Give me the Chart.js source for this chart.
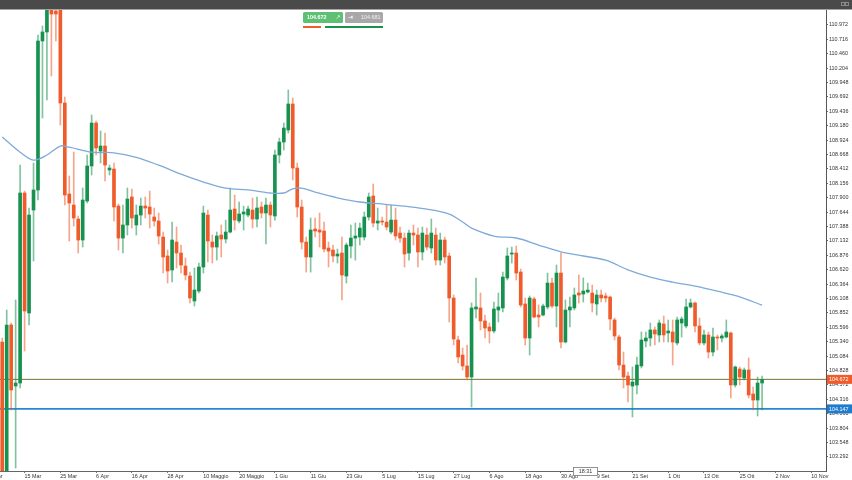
<!DOCTYPE html>
<html>
<head>
<meta charset="utf-8">
<script src="https://cdn.jsdelivr.net/npm/chart.js@4.4.0/dist/chart.umd.min.js"></script>
<style>
  html, body { margin: 0; padding: 0; background: #fff; }
  #wrap { position: relative; width: 852px; height: 480px; }
</style>
</head>
<body>
<div id="wrap"><canvas id="chart"></canvas></div>
<script>
// daily candles
const opens = [105.336,102.95,105.639,104.554,104.607,107.985,105.852,107.682,108.038,110.687,110.847,111.380,111.220,111.274,109.585,107.967,107.771,107.522,107.149,107.842,108.465,109.229,108.731,108.820,108.394,108.411,107.753,107.184,107.416,107.914,107.416,107.593,107.753,107.736,107.558,107.487,107.202,106.865,106.616,107.113,106.918,106.687,106.509,106.065,106.242,106.669,107.593,107.113,107.024,107.238,107.167,107.291,107.700,107.487,107.611,107.593,107.682,107.522,107.736,107.629,107.771,107.576,108.660,108.891,109.105,109.567,108.429,107.736,107.113,106.847,107.344,107.327,107.309,107.007,106.971,106.865,106.918,106.509,107.042,107.184,107.202,107.202,107.558,107.931,107.451,107.487,107.469,107.291,107.504,107.273,107.184,106.918,107.273,107.238,106.936,107.238,107.007,107.238,106.793,107.149,106.865,106.118,105.372,105.105,104.910,104.714,105.923,105.941,105.710,105.603,105.532,105.905,105.941,106.474,106.900,106.918,106.580,106.012,105.407,106.101,105.816,105.816,105.959,106.384,105.976,106.562,105.336,105.905,105.941,106.207,106.189,106.225,106.207,106.012,106.172,106.154,106.136,105.728,105.425,104.927,104.732,104.554,104.572,104.910,105.354,105.407,105.550,105.461,105.656,105.497,105.514,105.319,105.674,105.621,105.959,106.030,105.621,105.319,105.461,105.158,105.425,105.407,105.425,105.497,104.572,104.856,104.696,104.838,104.412,104.305,104.607];
const highs = [105.407,105.905,105.674,106.083,108.482,108.020,107.718,108.518,110.794,110.954,111.594,111.594,111.327,111.327,109.692,108.287,108.714,107.576,108.074,108.660,109.371,109.264,109.087,109.051,108.482,108.518,107.789,107.771,108.074,108.056,107.771,107.896,107.914,108.020,107.718,107.629,107.291,106.971,107.469,107.380,107.060,106.829,106.580,106.651,106.740,107.753,107.682,107.238,107.291,107.416,107.504,108.074,107.949,107.825,107.753,107.753,107.896,107.914,107.825,107.896,107.825,108.749,108.962,109.229,109.816,109.674,108.518,107.860,107.202,107.540,107.540,107.629,107.469,107.113,107.060,106.989,107.202,107.096,107.416,107.451,107.451,107.647,107.985,108.145,107.718,107.558,107.771,107.771,107.718,107.380,107.273,107.327,107.416,107.362,107.380,107.362,107.522,107.362,107.273,107.202,106.918,106.172,105.443,105.229,105.283,106.030,106.474,106.207,105.816,105.674,106.047,106.207,106.580,107.007,107.024,107.042,106.633,106.118,106.154,106.136,105.994,106.012,106.562,106.474,106.704,106.918,106.083,106.136,106.296,106.527,106.474,106.384,106.349,106.260,106.260,106.207,106.154,105.763,105.461,105.158,104.803,104.892,105.070,105.514,105.514,105.674,105.603,105.728,105.799,105.728,105.728,105.781,105.781,106.101,106.101,106.047,105.763,105.550,105.514,105.585,105.461,105.479,105.728,105.514,104.910,104.892,104.874,105.052,104.536,104.714,104.732];
const lows = [102.90,102.90,104.127,103.096,104.519,105.176,105.639,106.776,107.860,109.318,109.638,110.065,110.687,109.194,107.771,107.131,107.398,106.918,107.024,107.807,108.305,108.660,108.518,108.198,108.305,107.487,106.971,106.918,107.238,107.362,107.238,107.416,107.540,107.362,107.398,107.078,106.562,106.384,106.402,106.651,106.562,106.438,106.030,105.976,106.207,106.562,106.758,106.740,106.793,106.847,107.096,107.273,107.327,107.451,107.327,107.558,107.362,107.380,107.540,107.078,107.380,107.504,108.518,108.749,109.051,108.216,107.558,106.989,106.580,106.580,107.202,107.024,106.936,106.669,106.758,106.740,106.083,106.384,106.829,106.793,107.060,107.149,107.504,107.380,107.327,107.416,107.327,107.256,107.149,107.113,106.669,106.793,107.060,106.669,106.793,106.971,106.918,106.704,106.704,106.740,105.692,105.283,104.963,104.838,104.660,104.181,105.763,105.550,105.407,105.319,105.497,105.692,105.870,106.438,106.740,106.438,105.959,105.283,105.105,105.763,105.603,105.799,105.923,105.941,105.603,105.229,105.319,105.603,105.905,106.030,106.047,106.207,105.870,105.816,106.047,106.047,105.550,105.372,104.838,104.519,104.270,104.003,104.412,104.874,105.247,105.265,105.283,105.336,105.336,105.336,104.927,105.283,105.425,105.585,105.941,105.514,105.283,105.283,105.052,105.087,105.194,105.336,105.407,104.341,104.536,104.572,104.660,104.341,104.127,104.021,104.127];
const closes = [102.95,105.639,104.483,104.607,107.985,105.887,107.593,108.038,110.687,110.847,111.327,111.167,111.167,109.585,107.949,107.807,107.540,107.149,107.860,108.465,109.229,108.785,108.820,108.482,108.429,107.736,107.184,107.416,107.878,107.540,107.593,107.753,107.718,107.611,107.487,107.220,106.847,106.598,107.149,106.918,106.704,106.527,106.118,106.260,106.669,107.629,107.131,107.024,107.220,107.167,107.291,107.682,107.504,107.611,107.647,107.700,107.522,107.718,107.629,107.771,107.593,108.660,108.891,109.140,109.567,108.429,107.736,107.113,106.847,107.327,107.309,107.291,106.989,106.953,106.865,106.900,106.527,107.060,107.184,107.220,107.362,107.558,107.914,107.451,107.487,107.469,107.380,107.504,107.220,107.184,106.900,107.273,107.238,106.936,107.273,107.024,107.273,106.793,107.149,106.847,106.118,105.390,105.070,104.910,104.714,105.941,105.959,105.710,105.585,105.532,105.923,105.959,106.491,106.865,106.918,106.562,105.994,105.407,106.118,105.781,105.781,105.976,106.384,105.976,106.562,105.336,105.905,105.959,106.172,106.172,106.242,106.260,106.030,106.172,106.118,106.118,105.745,105.443,104.927,104.714,104.572,104.625,104.927,105.372,105.407,105.550,105.479,105.674,105.461,105.532,105.336,105.728,105.745,105.959,106.030,105.621,105.319,105.461,105.158,105.425,105.407,105.443,105.514,104.572,104.892,104.714,104.838,104.394,104.305,104.607,104.672];

// moving average, sampled at these bar indices
const maBars = [0,4,7,10,13,15,20,25,30,35,40,45,50,55,60,63,65,67,70,75,80,85,90,95,100,103,105,110,115,120,125,130,135,140,145,150,155,160,165,170];
const maValues = [108.98,108.71,108.57,108.66,108.82,108.80,108.71,108.70,108.62,108.48,108.32,108.18,108.07,108.04,107.985,107.985,108.06,108.07,108.00,107.90,107.825,107.79,107.75,107.70,107.61,107.47,107.36,107.22,107.185,107.06,106.94,106.865,106.79,106.62,106.49,106.40,106.33,106.24,106.14,105.99];

// horizontal levels
const lastPrice = 104.672;
const supportLevel = 104.147;
const askPrice = 104.681;
const timeLabel = "18:31";

// axis labels
const dateLabels = ["3 Mar","15 Mar","25 Mar","6 Apr","16 Apr","28 Apr","10 Maggio","20 Maggio","1 Giu","11 Giu","23 Giu","5 Lug","15 Lug","27 Lug","6 Ago","18 Ago","30 Ago","9 Set","21 Set","1 Ott","13 Ott","25 Ott","2 Nov","10 Nov"];
const firstLabelBar = -3;
const labelStep = 8;
const yTickValues = [103.292,103.548,103.804,104.060,104.316,104.572,104.828,105.084,105.340,105.596,105.852,106.108,106.364,106.620,106.876,107.132,107.388,107.644,107.900,108.156,108.412,108.668,108.924,109.180,109.436,109.692,109.948,110.204,110.460,110.716,110.972];

const UP = "#17914f", DOWN = "#ef5b2a";
const UP_WICK = "rgba(23,145,79,0.55)", DOWN_WICK = "rgba(239,91,42,0.55)";
const FONT = "Liberation Sans, Arial, sans-serif";
const tickFont = { family: FONT, size: 5.4 };

const isUp = closes.map((c, i) => c >= opens[i]);
const xMin = -0.5, xMax = 184.3;

function roundRect(ctx, x, y, w, h, r) {
  ctx.beginPath();
  ctx.moveTo(x + r, y);
  ctx.arcTo(x + w, y, x + w, y + h, r);
  ctx.arcTo(x + w, y + h, x, y + h, r);
  ctx.arcTo(x, y + h, x, y, r);
  ctx.arcTo(x, y, x + w, y, r);
  ctx.closePath();
}

function priceTag(ctx, yPix, left, color, text) {
  ctx.fillStyle = color;
  ctx.fillRect(left + 1, yPix - 4.5, 26, 9);
  ctx.fillStyle = "#fff";
  ctx.font = "5.4px " + FONT;
  ctx.textAlign = "left";
  ctx.textBaseline = "middle";
  ctx.fillText(text, left + 3, yPix + 0.3);
}

const extras = {
  id: "extras",
  beforeDraw(chart) {
    const { ctx, width, height } = chart;
    ctx.save();
    ctx.fillStyle = "#fff";
    ctx.fillRect(0, 0, width, height);
    // dark title strip
    ctx.fillStyle = "#4a4a4a";
    ctx.fillRect(0, 0, width, 9.5);
    ctx.strokeStyle = "#9a9a9a";
    ctx.lineWidth = 0.8;
    ctx.strokeRect(841.5, 2.5, 3, 3);
    ctx.strokeRect(845.5, 2.5, 3, 3);
    ctx.restore();
  },
  afterDraw(chart) {
    const { ctx, chartArea, scales: { x, y } } = chart;
    ctx.save();
    priceTag(ctx, y.getPixelForValue(lastPrice), chartArea.right, "#ef5b2a", lastPrice.toFixed(3));
    priceTag(ctx, y.getPixelForValue(supportLevel), chartArea.right, "#1f7bcc", supportLevel.toFixed(3));

    // time box on the x axis
    const tx = 573, ty = chartArea.bottom - 4;
    ctx.fillStyle = "#fff";
    ctx.fillRect(tx, ty, 25, 9);
    ctx.strokeStyle = "#777";
    ctx.lineWidth = 0.8;
    ctx.strokeRect(tx + 0.5, ty + 0.5, 24, 8);
    ctx.fillStyle = "#333";
    ctx.font = "5.4px " + FONT;
    ctx.textAlign = "center";
    ctx.textBaseline = "middle";
    ctx.fillText(timeLabel, tx + 12.5, ty + 4.8);

    // quote widget at the top
    ctx.fillStyle = "#5fbf74";
    roundRect(ctx, 303, 12, 40, 11, 1.5);
    ctx.fill();
    ctx.fillStyle = "#a8a8a8";
    roundRect(ctx, 345, 12, 38, 11, 1.5);
    ctx.fill();
    ctx.fillStyle = "#fff";
    ctx.textAlign = "left";
    ctx.font = "bold 5.4px " + FONT;
    ctx.fillText(closes[closes.length - 1].toFixed(3), 307, 17.8);
    ctx.font = "6px DejaVu Sans";
    ctx.fillText("\u2197", 335.5, 17.8);
    ctx.fillText("\u21e5", 348, 17.8);
    ctx.fillStyle = "#f2f2f2";
    ctx.font = "5.4px " + FONT;
    ctx.fillText(askPrice.toFixed(3), 361, 17.8);
    ctx.fillStyle = "#ef5b2a";
    ctx.fillRect(303, 26, 18, 2);
    ctx.fillStyle = "#1b9150";
    ctx.fillRect(325, 26, 58, 2);
    ctx.restore();
  }
};

const idx = opens.map((_, i) => i);

new Chart(document.getElementById("chart"), {
  type: "bar",
  data: {
    datasets: [
      {
        type: "line",
        data: [{ x: xMin, y: lastPrice }, { x: xMax, y: lastPrice }],
        borderColor: "#7a7330",
        borderWidth: 1,
        pointRadius: 0,
        order: 4
      },
      {
        type: "line",
        data: [{ x: xMin, y: supportLevel }, { x: xMax, y: supportLevel }],
        borderColor: "#2a86d4",
        borderWidth: 1.6,
        pointRadius: 0,
        order: 4
      },
      {
        label: "wick",
        data: idx.map(i => ({ x: i, y: [lows[i], highs[i]] })),
        backgroundColor: idx.map(i => (isUp[i] ? UP_WICK : DOWN_WICK)),
        barThickness: 1,
        grouped: false,
        order: 3
      },
      {
        label: "body",
        data: idx.map(i => ({ x: i, y: [opens[i], closes[i]] })),
        backgroundColor: idx.map(i => (isUp[i] ? UP : DOWN)),
        barThickness: 3,
        minBarLength: 1,
        grouped: false,
        order: 2
      },
      {
        type: "line",
        data: maBars.map((b, i) => ({ x: b, y: maValues[i] })),
        borderColor: "#7eaad9",
        borderWidth: 1.3,
        pointRadius: 0,
        tension: 0.35,
        order: 1
      }
    ]
  },
  options: {
    responsive: true,
    maintainAspectRatio: false,
    animation: false,
    events: [],
    layout: { padding: { top: 10, left: 0, right: 0, bottom: 0 } },
    plugins: { legend: { display: false }, tooltip: { enabled: false } },
    scales: {
      x: {
        type: "linear",
        offset: false,
        min: xMin,
        max: xMax,
        afterBuildTicks: s => {
          s.ticks = dateLabels.map((_, k) => ({ value: firstLabelBar + k * labelStep }));
        },
        afterFit: s => {
          s.height = 9;
          s.paddingLeft = 0;
          s.paddingRight = 0;
        },
        ticks: {
          autoSkip: false,
          maxRotation: 0,
          align: "start",
          padding: 0,
          color: "#333",
          font: tickFont,
          callback: (v, i) => dateLabels[i]
        },
        grid: { offset: false, drawOnChartArea: false, tickLength: 2, color: "#777" },
        border: { color: "#666", width: 1 }
      },
      y: {
        position: "right",
        min: 103.043,
        max: 111.238,
        afterBuildTicks: s => {
          s.ticks = yTickValues.map(v => ({ value: v }));
        },
        afterFit: s => {
          s.width = 26;
          s.paddingTop = 0;
          s.paddingBottom = 0;
        },
        ticks: {
          autoSkip: false,
          padding: 1,
          color: "#333",
          font: tickFont,
          callback: v => v.toFixed(3)
        },
        grid: { drawOnChartArea: false, tickLength: 2, color: "#666" },
        border: { color: "#555", width: 1 }
      }
    }
  },
  plugins: [extras]
});
</script>
</body>
</html>
